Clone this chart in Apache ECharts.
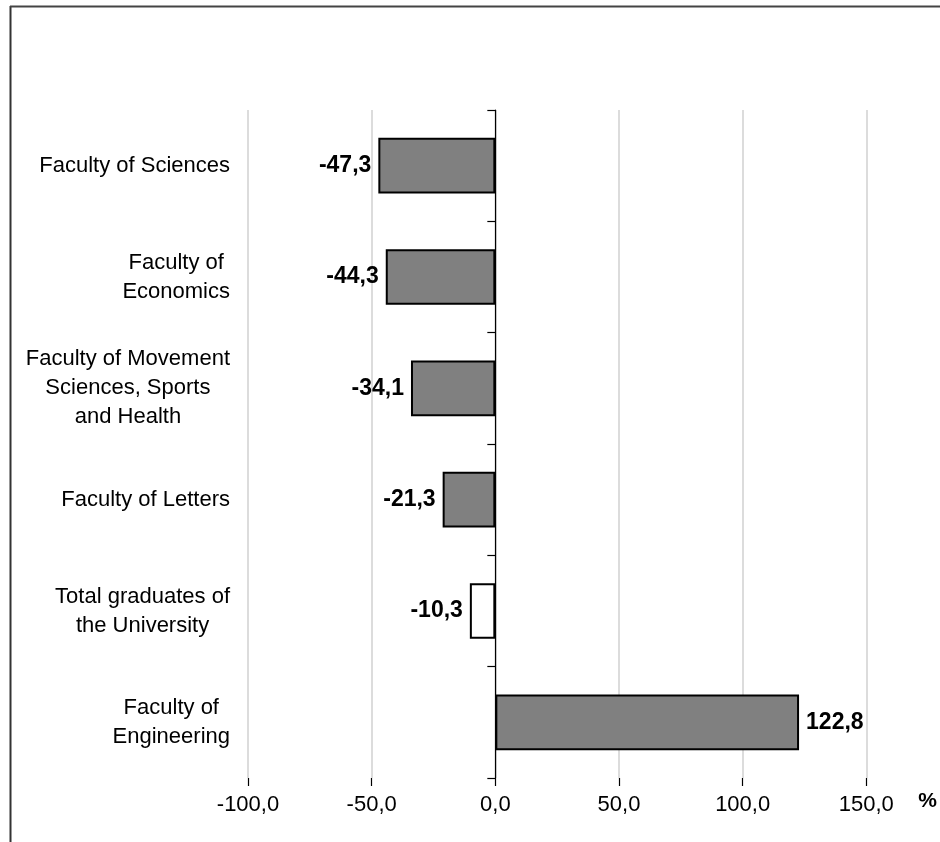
<!DOCTYPE html>
<html>
<head>
<meta charset="utf-8">
<script src="https://cdn.jsdelivr.net/npm/echarts@6/dist/echarts.min.js"></script>
<style>
  html, body { margin: 0; padding: 0; background: #fff; }
  #chart { width: 940px; height: 842px; }
</style>
</head>
<body>
<div id="chart"></div>
<script>
// Categories, top to bottom
const categories = [
  'Faculty of Sciences',
  'Faculty of\nEconomics',
  'Faculty of Movement\nSciences, Sports\nand Health',
  'Faculty of Letters',
  'Total graduates of\nthe University',
  'Faculty of\nEngineering'
];
// Percentage change
const values = [-47.3, -44.3, -34.1, -21.3, -10.3, 122.8];
// Highlighted (white) category
const highlightCategory = 'Total graduates of\nthe University';
// X axis ticks
const xTicks = [-100, -50, 0, 50, 100, 150];
const axisUnit = '%';

const fmt = v => Number(v).toFixed(1).replace('.', ',');
const FONT = 'Liberation Sans, Arial, sans-serif';

const chart = echarts.init(document.getElementById('chart'), null, { renderer: 'canvas' });

const option = {
  backgroundColor: '#ffffff',
  animation: false,
  graphic: [
    { type: 'line', shape: { x1: 10.5, y1: 6, x2: 10.5, y2: 842 }, style: { stroke: '#333', lineWidth: 2 } },
    { type: 'line', shape: { x1: 10, y1: 6.5, x2: 940, y2: 6.5 }, style: { stroke: '#444', lineWidth: 2 } }
  ],
  grid: { left: 248, right: 73, top: 110, bottom: 64, containLabel: false },
  xAxis: {
    type: 'value',
    min: xTicks[0],
    max: xTicks[xTicks.length - 1],
    interval: xTicks[1] - xTicks[0],
    name: axisUnit,
    nameLocation: 'end',
    nameGap: 52,
    nameTextStyle: { fontFamily: FONT, fontSize: 21, fontWeight: 'bold', color: '#000', verticalAlign: 'top', padding: [13, 0, 0, 0] },
    axisLine: { onZero: false, lineStyle: { color: '#000', width: 1.2 } },
    axisTick: { show: true, length: 8, lineStyle: { color: '#000', width: 1.2 } },
    axisLabel: { formatter: fmt, fontFamily: FONT, fontSize: 22, color: '#000', margin: 16 },
    splitLine: { show: true, lineStyle: { color: '#d0d0d0', width: 1.5 } }
  },
  yAxis: [
    {
      type: 'category',
      data: categories,
      inverse: true,
      position: 'left',
      axisLine: { show: false, onZero: false },
      axisTick: { show: false },
      splitLine: { show: false },
      axisLabel: {
        margin: 18,
        fontFamily: FONT,
        fontSize: 22,
        color: '#000',
        lineHeight: 29,
        formatter: v => v.split('\n').map(l => '{c|' + l + '}').join('\n'),
        rich: { c: { align: 'center', fontFamily: FONT, fontSize: 22, lineHeight: 29, color: '#000' } }
      }
    },
    {
      type: 'category',
      data: categories,
      inverse: true,
      position: 'left',
      axisLine: { show: true, onZero: true, lineStyle: { color: '#000', width: 1.2 } },
      axisTick: { show: true, length: 8, lineStyle: { color: '#000', width: 1.2 } },
      axisLabel: { show: false },
      splitLine: { show: false }
    }
  ],
  series: [
    {
      type: 'bar',
      yAxisIndex: 0,
      barWidth: '50%',
      data: values.map(v => ({ value: v, label: { position: v < 0 ? 'left' : 'right' } })),
      itemStyle: {
        color: p => (p.name === highlightCategory ? '#ffffff' : '#808080'),
        borderColor: '#000',
        borderWidth: 2
      },
      label: {
        show: true,
        distance: 7,
        formatter: p => fmt(p.value),
        fontFamily: FONT,
        fontSize: 23,
        fontWeight: 'bold',
        color: '#000'
      },
      z: 3
    }
  ]
};

chart.setOption(option);
</script>
</body>
</html>
